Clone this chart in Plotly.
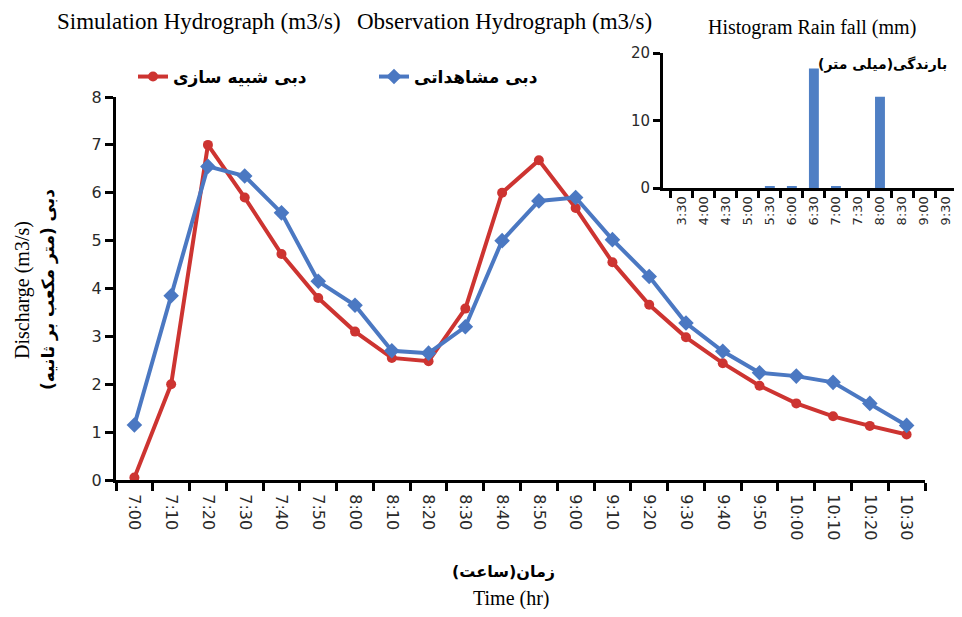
"""
شبیه‌سازی و مشاهده هیدروگراف سیلاب به همراه هیستوگرام بارندگی
Simulation / Observation hydrograph with rainfall histogram inset
"""

import plotly.graph_objects as go

# زمان (main x categories)
time_labels = [
    "7:00", "7:10", "7:20", "7:30", "7:40", "7:50", "8:00", "8:10", "8:20", "8:30", "8:40",
    "8:50", "9:00", "9:10", "9:20", "9:30", "9:40", "9:50", "10:00", "10:10", "10:20", "10:30",
]

# دبی شبیه سازی (m3/s)
q_sim = [
    0.05, 2.0, 7.0, 5.9, 4.72, 3.8, 3.1, 2.55, 2.48, 3.58, 6.0,
    6.68, 5.68, 4.55, 3.66, 2.98, 2.44, 1.97, 1.6, 1.33, 1.13, 0.95,
]

# دبی مشاهداتی (m3/s)
q_obs = [
    1.15, 3.85, 6.55, 6.35, 5.58, 4.15, 3.65, 2.7, 2.65, 3.2, 5.0,
    5.83, 5.9, 5.02, 4.25, 3.28, 2.69, 2.24, 2.17, 2.04, 1.6, 1.14,
]

# بارندگی (mm)
rain_labels = ["3:30", "4:00", "4:30", "5:00", "5:30", "6:00", "6:30", "7:00", "7:30", "8:00", "8:30", "9:00", "9:30"]
rain_mm = [0, 0, 0, 0, 0.2, 0.2, 17.7, 0.2, 0, 13.5, 0, 0, 0]

RED = "#CD3431"
BLUE = "#4B78C2"
SERIF = "Liberation Serif"
SANS = "DejaVu Sans"

# figure size so that the page (with its 8px body margin) fits the window
W, H = 946, 601


def px(x):
    # page pixel -> paper x
    return (x - 8) / W


def py(y):
    # page pixel -> paper y
    return 1 - (y - 8) / H


fig = go.Figure()

fig.add_trace(
    go.Scatter(
        x=time_labels,
        y=q_sim,
        name="<b>دبی شبیه سازی</b>",
        mode="lines+markers",
        line=dict(color=RED, width=4),
        marker=dict(symbol="circle", size=10, color=RED),
        xaxis="x",
        yaxis="y",
    )
)
fig.add_trace(
    go.Scatter(
        x=time_labels,
        y=q_obs,
        name="<b>دبی مشاهداتی</b>",
        mode="lines+markers",
        line=dict(color=BLUE, width=4),
        marker=dict(symbol="diamond", size=12, color=BLUE),
        xaxis="x",
        yaxis="y",
    )
)

# هیستوگرام بارندگی (inset)
fig.add_trace(
    go.Bar(
        x=rain_labels,
        y=rain_mm,
        marker=dict(color="#4F7FC4", line=dict(width=0)),
        showlegend=False,
        xaxis="x2",
        yaxis="y2",
    )
)

axis_common = dict(
    showline=True,
    linecolor="black",
    linewidth=3,
    ticks="outside",
    tickcolor="black",
    tickwidth=2.5,
    showgrid=False,
    zeroline=False,
    automargin=False,
)

fig.update_layout(
    width=W,
    height=H,
    margin=dict(l=0, r=0, t=0, b=0, autoexpand=False),
    paper_bgcolor="white",
    plot_bgcolor="rgba(0,0,0,0)",
    bargap=0.55,
    xaxis=dict(
        **axis_common,
        domain=[px(116), px(925)],
        type="category",
        range=[-0.5, 21.5],
        tickson="boundaries",
        ticklen=8,
        tickangle=90,
        ticklabelstandoff=8,
        tickfont=dict(family=SANS, size=16, color="#2a2a2a"),
        anchor="y",
    ),
    yaxis=dict(
        **axis_common,
        domain=[py(480), py(97)],
        range=[0, 8],
        dtick=1,
        ticklen=8,
        tickfont=dict(family=SANS, size=16, color="#2a2a2a"),
        anchor="x",
    ),
    xaxis2=dict(
        **axis_common,
        domain=[px(663), 1.0],
        type="category",
        range=[-0.85, 12.36],
        tickson="boundaries",
        ticklen=7,
        tickangle=-90,
        tickfont=dict(family=SANS, size=13, color="#2a2a2a"),
        anchor="y2",
    ),
    yaxis2=dict(
        **axis_common,
        domain=[py(188), py(53)],
        range=[0, 20],
        tickvals=[0, 10, 20],
        ticklen=7,
        tickfont=dict(family=SANS, size=15, color="#2a2a2a"),
        anchor="x2",
    ),
    legend=dict(
        orientation="h",
        x=px(133),
        xanchor="left",
        y=py(77),
        yanchor="middle",
        entrywidth=196,
        font=dict(family=SANS, size=17, color="black"),
        bgcolor="rgba(0,0,0,0)",
    ),
)

annotations = [
    dict(x=199, y=22, text="Simulation Hydrograph (m3/s)", font=dict(family=SERIF, size=23, color="black")),
    dict(x=505, y=22, text="Observation Hydrograph (m3/s)", font=dict(family=SERIF, size=23, color="black")),
    dict(x=812, y=28, text="Histogram Rain fall (mm)", font=dict(family=SERIF, size=20, color="black")),
    dict(x=882, y=64, text="<b>بارندگی(میلی متر)</b>", font=dict(family=SANS, size=14, color="black")),
    dict(x=503, y=571, text="<b>زمان(ساعت)</b>", font=dict(family=SANS, size=16, color="black")),
    dict(x=511, y=598, text="Time (hr)", font=dict(family=SERIF, size=20, color="black")),
    dict(x=22, y=290, text="Discharge (m3/s)", textangle=-90, font=dict(family=SERIF, size=20, color="black")),
    dict(x=48, y=290, text="<b>دبی (متر مکعب بر ثانیه)</b>", textangle=-90, font=dict(family=SANS, size=17, color="black")),
]
for a in annotations:
    fig.add_annotation(
        x=px(a["x"]),
        y=py(a["y"]),
        xref="paper",
        yref="paper",
        text=a["text"],
        textangle=a.get("textangle", 0),
        font=a["font"],
        showarrow=False,
        xanchor=a.get("xanchor", "center"),
        yanchor="middle",
    )

fig.write_html("out.html")
